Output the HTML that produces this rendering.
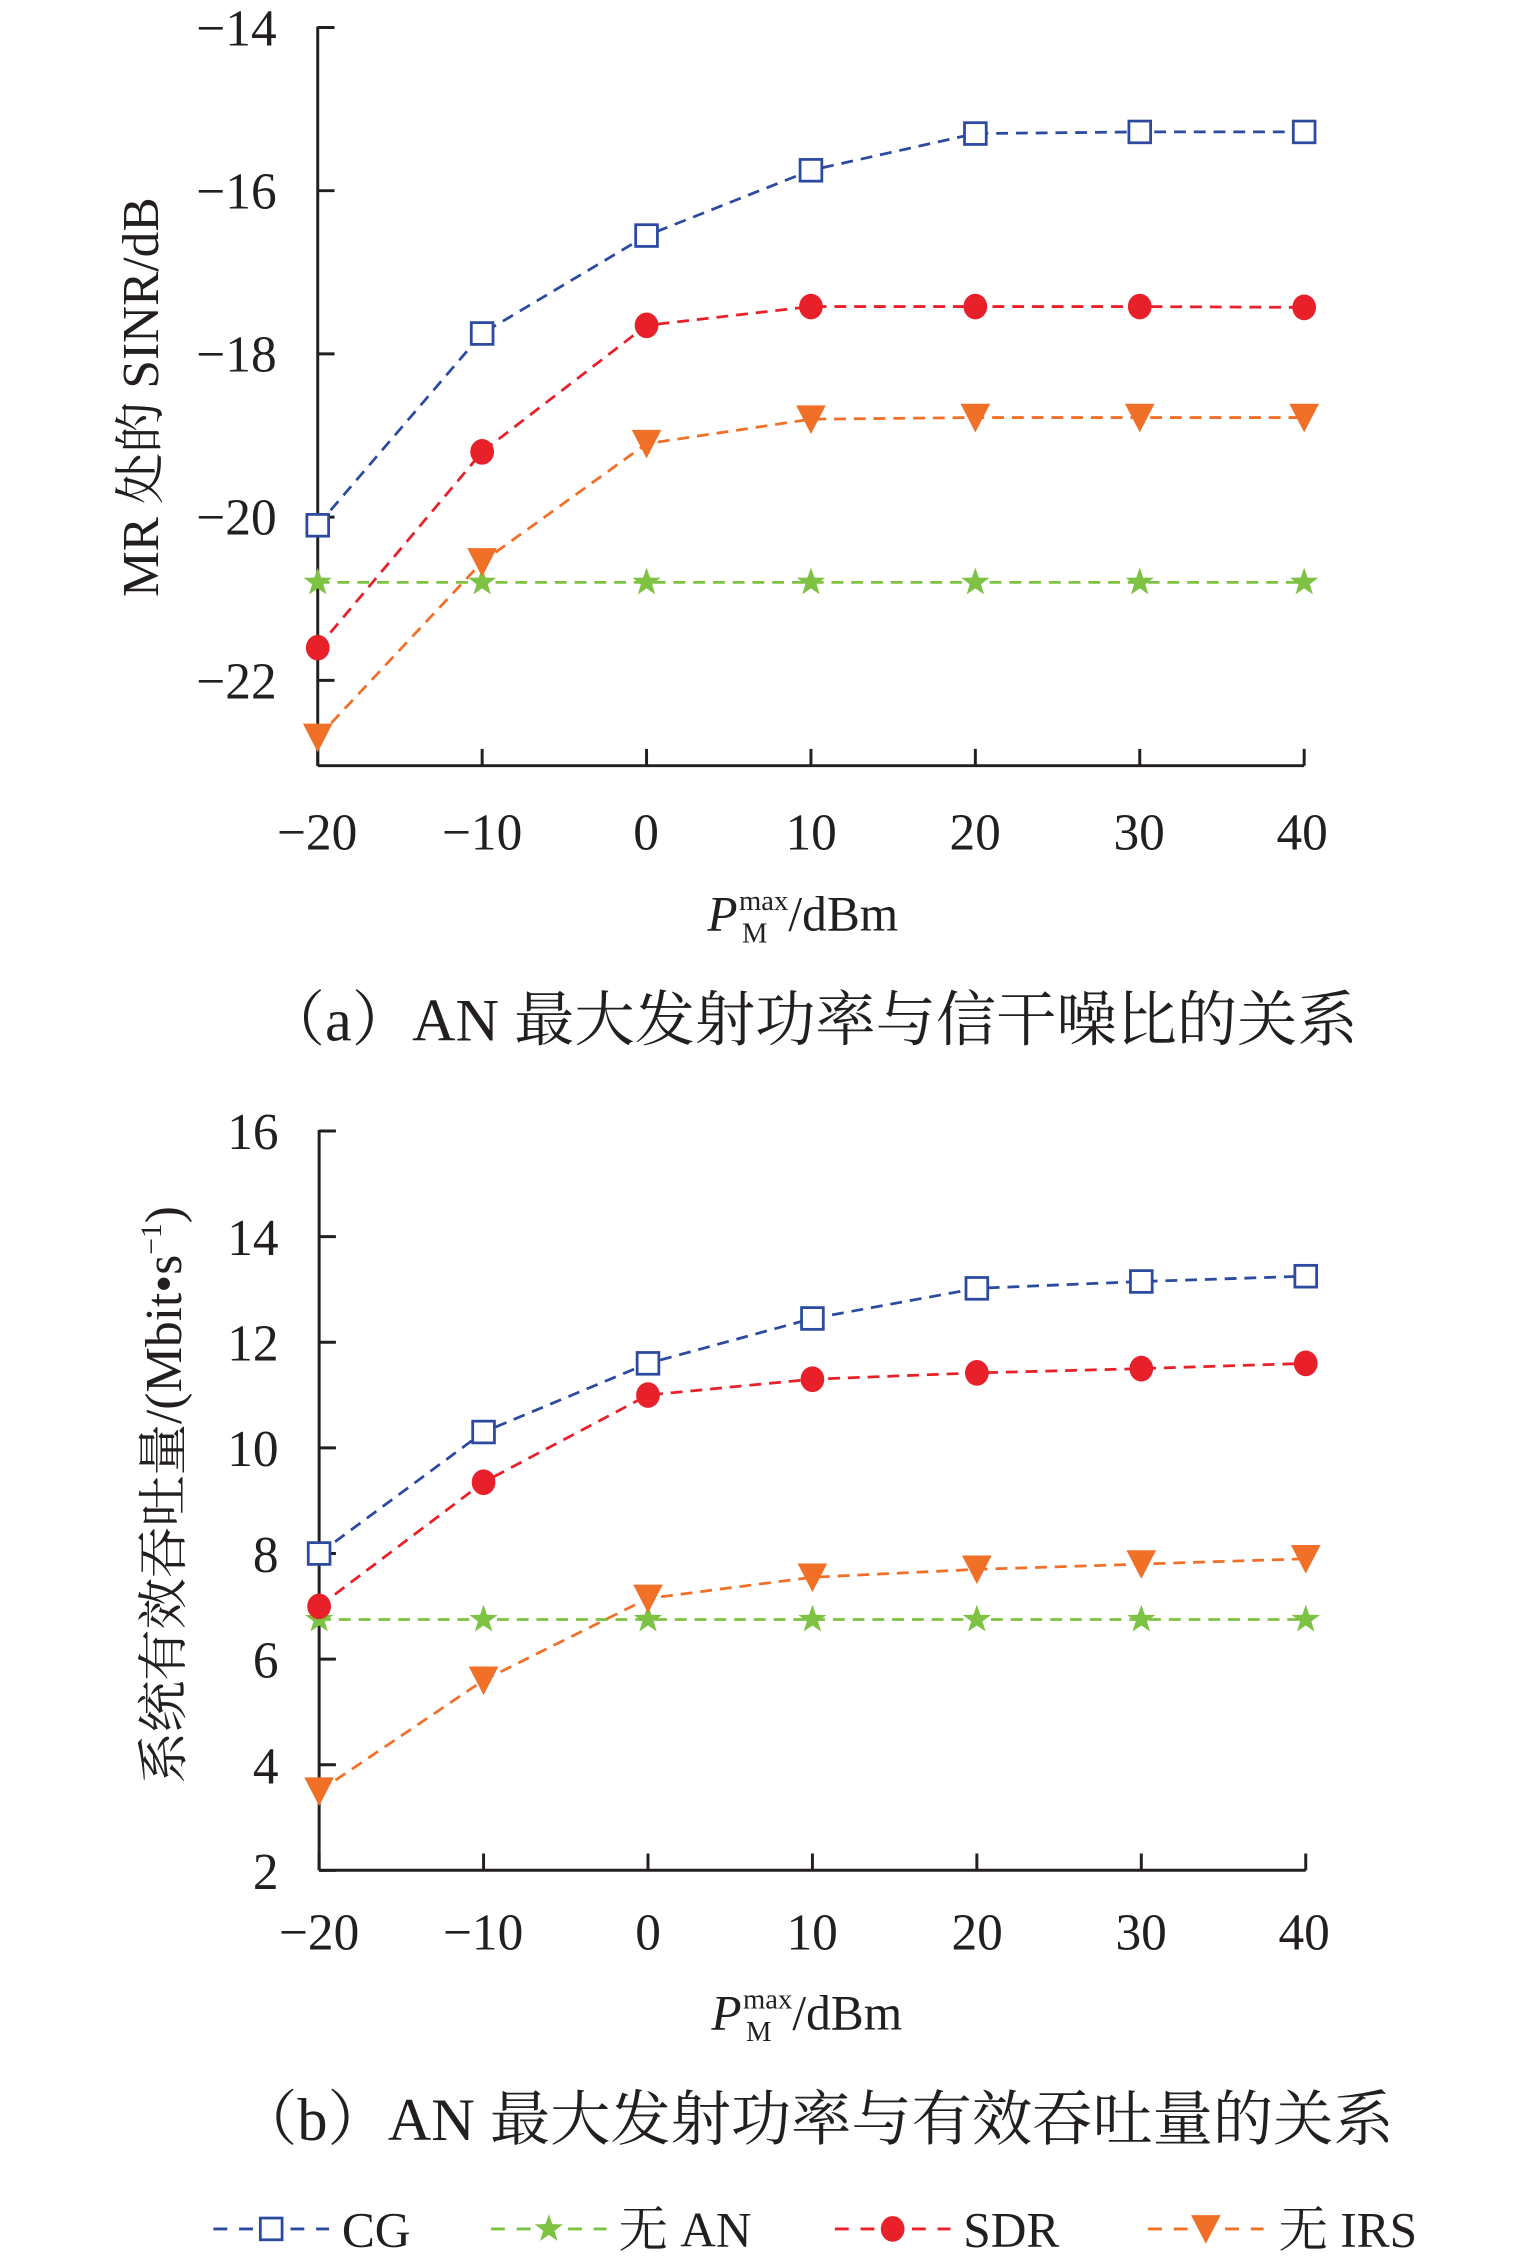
<!DOCTYPE html>
<html><head><meta charset="utf-8"><style>
html,body{margin:0;padding:0;background:#fff;}
svg{display:block;}
text{font-family:"Liberation Serif","Noto Serif CJK SC",serif;fill:#231f20;}
</style></head><body>
<svg id="s" width="1535" height="2263" viewBox="0 0 1535 2263" xmlns="http://www.w3.org/2000/svg">
<g transform="scale(0.988)">
<g id="g"></g>
<!-- chart a labels -->
<g font-size="52" text-anchor="end">
<text x="280" y="46">−14</text>
<text x="280" y="211">−16</text>
<text x="280" y="376">−18</text>
<text x="280" y="541">−20</text>
<text x="280" y="707">−22</text>
</g>
<g font-size="52" text-anchor="middle">
<text x="321" y="860">−20</text><text x="488" y="860">−10</text><text x="654" y="860">0</text>
<text x="821" y="860">10</text><text x="987" y="860">20</text><text x="1153" y="860">30</text><text x="1318" y="860">40</text>
</g>
<text x="716" y="942" font-size="50"><tspan font-style="italic">P</tspan></text>
<text x="748" y="921" font-size="29">max</text>
<text x="751" y="954" font-size="29">M</text>
<text x="798" y="942" font-size="50">/dBm</text>
<text transform="translate(160,402) rotate(-90)" text-anchor="middle" font-size="52">MR 处的 SINR/dB</text>
<text x="268" y="1053" font-size="61">（a）AN 最大发射功率与信干噪比的关系</text>
<!-- chart b labels -->
<g font-size="52" text-anchor="end">
<text x="282" y="1163">16</text><text x="282" y="1270">14</text><text x="282" y="1377">12</text>
<text x="282" y="1484">10</text><text x="282" y="1591">8</text><text x="282" y="1698">6</text>
<text x="282" y="1805">4</text><text x="282" y="1912">2</text>
</g>
<g font-size="52" text-anchor="middle">
<text x="323" y="1973">−20</text><text x="489" y="1973">−10</text><text x="656" y="1973">0</text>
<text x="822" y="1973">10</text><text x="989" y="1973">20</text><text x="1155" y="1973">30</text><text x="1320" y="1973">40</text>
</g>
<text x="720" y="2054" font-size="50"><tspan font-style="italic">P</tspan></text>
<text x="752" y="2033" font-size="29">max</text>
<text x="755" y="2066" font-size="29">M</text>
<text x="802" y="2054" font-size="50">/dBm</text>
<text transform="translate(183,1513) rotate(-90)" text-anchor="middle" font-size="52">系统有效吞吐量/(Mbit•s<tspan font-size="30" dy="-20">−1</tspan><tspan dy="20">)</tspan></text>
<text x="240" y="2166" font-size="61">（b）AN 最大发射功率与有效吞吐量的关系</text>
<!-- legend text -->
<g font-size="50">
<text x="346" y="2274">CG</text>
<text x="626" y="2274">无 AN</text>
<text x="975" y="2274">SDR</text>
<text x="1294" y="2274">无 IRS</text>
</g>
</g>
</svg>
<script>
const NS="http://www.w3.org/2000/svg",g=document.getElementById('g');
function el(t,a){const e=document.createElementNS(NS,t);for(const k in a)e.setAttribute(k,a[k]);g.appendChild(e);return e;}
const C={cg:'#2b4aa0',sdr:'#e8202a',irs:'#f07028',an:'#7dc242'};
function marker(type,x,y){
 const c=C[type];
 if(type==='cg')el('rect',{x:x-11,y:y-11,width:22,height:22,fill:'#fff',stroke:c,'stroke-width':2.8});
 else if(type==='sdr')el('ellipse',{cx:x,cy:y,rx:12,ry:13,fill:c});
 else if(type==='irs')el('polygon',{points:`${x-15},${y-14} ${x+15},${y-14} ${x},${y+15}`,fill:c});
 else{let p=[];for(let i=0;i<10;i++){const r=i%2?6:15,a=-Math.PI/2+i*Math.PI/5;p.push((x+r*Math.cos(a)).toFixed(1)+','+(y+r*Math.sin(a)).toFixed(1));}
  el('polygon',{points:p.join(' '),fill:c});}
}
function chart(X0,X1,Yf,yb,ticks,data){
 const xs=[0,1,2,3,4,5,6].map(i=>X0+i*(X1-X0)/6);
 el('line',{x1:X0,y1:Yf(ticks[0])-1,x2:X0,y2:yb,stroke:'#231f20','stroke-width':3});
 el('line',{x1:X0,y1:yb,x2:X1,y2:yb,stroke:'#231f20','stroke-width':3});
 ticks.forEach(v=>el('line',{x1:X0,y1:Yf(v),x2:X0+17,y2:Yf(v),stroke:'#231f20','stroke-width':3}));
 xs.forEach(x=>el('line',{x1:x,y1:yb,x2:x,y2:yb-17,stroke:'#231f20','stroke-width':3}));
 for(const k of ['an','irs','sdr','cg']){
  const pts=data[k].map((v,i)=>xs[i]+','+Yf(v));
  el('polyline',{points:pts.join(' '),fill:'none',stroke:C[k],'stroke-width':2.8,'stroke-dasharray':'12 8'});
 }
 for(const k of ['an','irs','sdr','cg'])data[k].forEach((v,i)=>marker(k,xs[i],Yf(v)));
}
chart(321.6,1320,v=>27.8+(-14-v)*82.6,775,[-14,-16,-18,-20,-22],{
 cg:[-20.1,-17.75,-16.55,-15.75,-15.3,-15.28,-15.28],
 sdr:[-21.6,-19.2,-17.65,-17.42,-17.42,-17.42,-17.43],
 irs:[-22.7,-20.55,-19.1,-18.8,-18.78,-18.78,-18.78],
 an:[-20.8,-20.8,-20.8,-20.8,-20.8,-20.8,-20.8]});
chart(323,1321.6,v=>1144.7+(16-v)*53.46,1893,[16,14,12,10,8,6,4,2],{
 cg:[8.0,10.3,11.6,12.45,13.02,13.15,13.25],
 sdr:[7.0,9.35,11.0,11.3,11.42,11.5,11.6],
 irs:[3.5,5.6,7.15,7.55,7.7,7.8,7.9],
 an:[6.75,6.75,6.75,6.75,6.75,6.75,6.75]});
// legend
const ly=2256;
[['cg',216,333],['an',497,614],['sdr',845,962],['irs',1162,1279]].forEach(([k,a,b])=>{
 el('line',{x1:a,y1:ly,x2:b,y2:ly,stroke:C[k],'stroke-width':3,'stroke-dasharray':'14 12'});
 marker(k,(a+b)/2,ly);
});
</script>
</body></html>
